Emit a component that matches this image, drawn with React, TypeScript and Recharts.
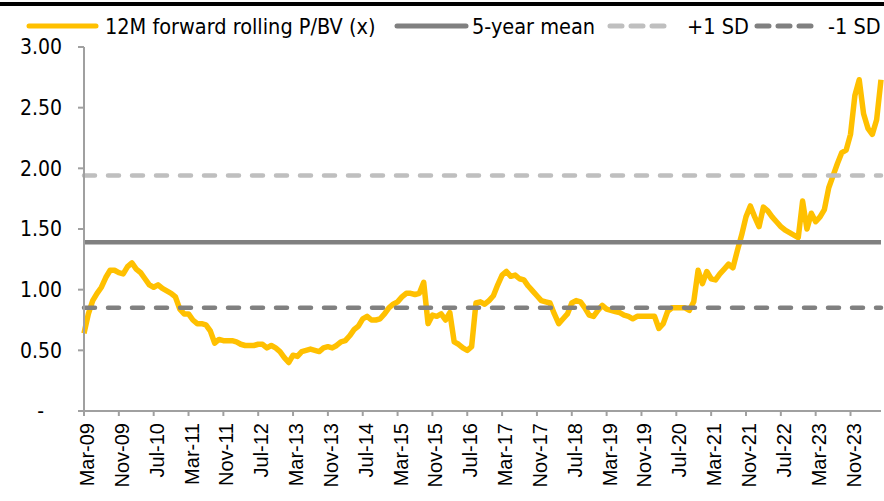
import React from "react";
import { LineChart, Line, XAxis, YAxis } from "recharts";

// monthly series, Mar-09 .. Jun-24
const startYear = 2009;
const startMonth = 2; // March (0-based)
const monthNames = ["Jan", "Feb", "Mar", "Apr", "May", "Jun", "Jul", "Aug", "Sep", "Oct", "Nov", "Dec"];

const pbv = [
  0.64, 0.8, 0.91, 0.97, 1.02, 1.1, 1.16, 1.16, 1.14, 1.13, 1.19, 1.22,
  1.17, 1.14, 1.09, 1.04, 1.02, 1.04, 1.01, 0.99, 0.97, 0.94, 0.84, 0.8,
  0.8, 0.75, 0.72, 0.72, 0.71, 0.66, 0.56, 0.59, 0.58, 0.58, 0.58, 0.57,
  0.55, 0.54, 0.54, 0.54, 0.55, 0.55, 0.52, 0.54, 0.52, 0.49, 0.44, 0.4,
  0.46, 0.45, 0.49, 0.5, 0.51, 0.5, 0.49, 0.52, 0.53, 0.52, 0.54, 0.57,
  0.58, 0.62, 0.67, 0.7, 0.76, 0.78, 0.75, 0.75, 0.76, 0.8, 0.85, 0.88,
  0.9, 0.94, 0.97, 0.97, 0.96, 0.97, 1.06, 0.72, 0.79, 0.78, 0.8, 0.75,
  0.81, 0.57, 0.55, 0.52, 0.5, 0.53, 0.89, 0.9, 0.88, 0.91, 0.95, 1.04,
  1.12, 1.15, 1.11, 1.12, 1.09, 1.08, 1.03, 0.99, 0.95, 0.91, 0.9, 0.89,
  0.8, 0.72, 0.76, 0.8, 0.89, 0.91, 0.9, 0.85, 0.79, 0.78, 0.83, 0.87,
  0.84, 0.83, 0.82, 0.81, 0.79, 0.78, 0.76, 0.78, 0.78, 0.78, 0.78, 0.78,
  0.68, 0.72, 0.82, 0.85, 0.85, 0.85, 0.85, 0.83, 0.9, 1.16, 1.05, 1.15,
  1.09, 1.08, 1.13, 1.17, 1.21, 1.18, 1.32, 1.45, 1.6, 1.69, 1.6, 1.52,
  1.68, 1.65, 1.6, 1.56, 1.52, 1.49, 1.47, 1.45, 1.43, 1.73, 1.5, 1.63,
  1.56, 1.6, 1.66, 1.84, 1.94, 2.04, 2.13, 2.15, 2.28, 2.6, 2.73, 2.45,
  2.33, 2.28, 2.4, 2.73,
];

const mean5y = 1.39;
const plusOneSd = 1.94;
const minusOneSd = 0.85;

const yTicks = [0, 0.5, 1, 1.5, 2, 2.5, 3];

const seriesNames = ["12M forward rolling P/BV (x)", "5-year mean", "+1 SD", "-1 SD"];

const monthLabel = (i: number) => {
  const m = startMonth + i;
  const y = startYear + Math.floor(m / 12);
  return `${monthNames[m % 12]}-${String(y % 100).padStart(2, "0")}`;
};

const data = pbv.map((v, i) => ({
  month: monthLabel(i),
  pbv: v,
  mean: mean5y,
  plus: plusOneSd,
  minus: minusOneSd,
}));

const YELLOW = "#FFC000";
const DARK_GREY = "#808080";
const LIGHT_GREY = "#BFBFBF";
const AXIS = "#A0A0A0";
const LABEL_FONT = "'DejaVu Sans Condensed', 'DejaVu Sans', sans-serif";

const XTick = ({ x, y, payload }: any) => (
  <g transform={`translate(${x},${y})`}>
    <text
      transform="rotate(-90)"
      x={-5}
      y={0}
      dy="0.5em"
      textAnchor="end"
      fontSize={20}
      fill="#000"
      fontFamily="'Liberation Sans', Arial, sans-serif"
    >
      {payload.value}
    </text>
  </g>
);

function Legend() {
  const items = [
    { color: YELLOW, dash: undefined, x0: 29, x1: 96, textX: 105 },
    { color: DARK_GREY, dash: undefined, x0: 397, x1: 466, textX: 472 },
    { color: LIGHT_GREY, dash: "12 9", x0: 610, x1: 667, textX: 687 },
    { color: DARK_GREY, dash: "12 9", x0: 757, x1: 814, textX: 828 },
  ];
  return (
    <div style={{ position: "absolute", left: 0, top: 0, width: 884, height: 46 }}>
      <svg width={884} height={46} style={{ position: "absolute", left: 0, top: 0 }}>
        {items.map((it, i) => (
          <g key={i}>
            <line
              x1={it.x0}
              x2={it.x1}
              y1={26}
              y2={26}
              stroke={it.color}
              strokeWidth={5}
              strokeLinecap="round"
              strokeDasharray={it.dash}
            />
            <text x={it.textX} y={26} dy="0.36em" fontSize={21.5} fontFamily={LABEL_FONT} fill="#000">
              {seriesNames[i]}
            </text>
          </g>
        ))}
      </svg>
    </div>
  );
}

export default function App() {
  return (
    <div style={{ position: "absolute", left: 0, top: 0, width: 884, height: 501, background: "#fff" }}>
      <div style={{ position: "absolute", left: 0, top: 2, width: 884, height: 4, background: "#000" }} />
      <Legend />
      <LineChart width={884} height={501} data={data} margin={{ top: 47, right: 3, bottom: 0, left: 0 }}>
        <XAxis
          dataKey="month"
          interval={7}
          height={90}
          tick={<XTick />}
          tickSize={5}
          tickMargin={2}
          axisLine={{ stroke: AXIS, strokeWidth: 2 }}
          tickLine={{ stroke: AXIS, strokeWidth: 2 }}
        />
        <YAxis
          domain={[0, 3]}
          ticks={yTicks}
          width={84}
          tickSize={6}
          tickMargin={16}
          tickFormatter={(v: number) => (v === 0 ? "-\u00a0\u00a0\u00a0" : v.toFixed(2))}
          tick={{ fontSize: 21, fill: "#000", fontFamily: LABEL_FONT }}
          axisLine={{ stroke: AXIS, strokeWidth: 2 }}
          tickLine={{ stroke: AXIS, strokeWidth: 2 }}
        />
        <Line
          dataKey="pbv"
          stroke={YELLOW}
          strokeWidth={5.5}
          strokeLinejoin="round"
          dot={false}
          isAnimationActive={false}
        />
        <Line
          dataKey="mean"
          stroke={DARK_GREY}
          strokeWidth={4.5}
          dot={false}
          isAnimationActive={false}
        />
        <Line
          dataKey="plus"
          stroke={LIGHT_GREY}
          strokeWidth={4.5}
          strokeDasharray="11 13"
          strokeLinecap="round"
          dot={false}
          isAnimationActive={false}
        />
        <Line
          dataKey="minus"
          stroke={DARK_GREY}
          strokeWidth={4.5}
          strokeDasharray="11 13"
          strokeLinecap="round"
          dot={false}
          isAnimationActive={false}
        />
      </LineChart>
    </div>
  );
}
